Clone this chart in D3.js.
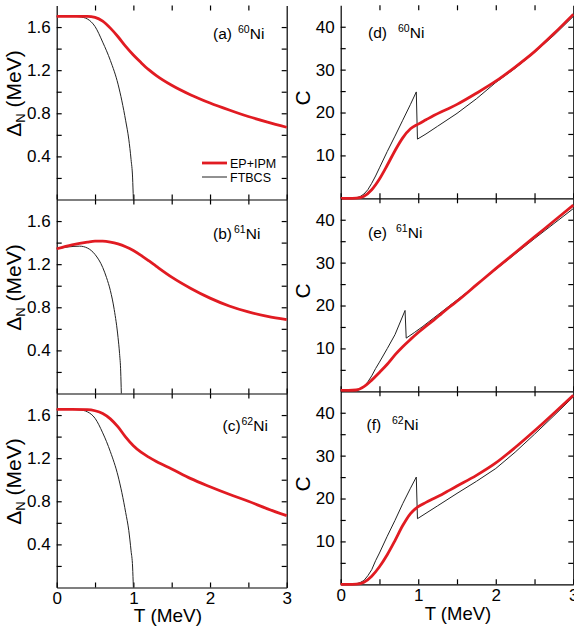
<!DOCTYPE html>
<html>
<head>
<meta charset="utf-8">
<script src="https://cdn.jsdelivr.net/npm/d3@7"></script>
<style>
  body { margin: 0; background: #fff; }
  text { font-family: "Liberation Sans", Arial, sans-serif; }
</style>
</head>
<body>
<div id="chart"></div>
<script>
// ---------- data ----------
// pairing gap, EP+IPM (red)
let t_gap_ep = [0, 0.2, 0.4, 0.5, 0.6, 0.7, 0.8, 0.9, 1.0, 1.1, 1.2, 1.3, 1.5, 1.75, 2.0, 2.25, 2.5, 2.75, 3.0];
let gap60_ep = [1.70, 1.70, 1.70, 1.69, 1.655, 1.59, 1.51, 1.42, 1.34, 1.27, 1.205, 1.15, 1.06, 0.97, 0.895, 0.83, 0.77, 0.718, 0.67];
let gap61_ep = [1.343, 1.38, 1.405, 1.413, 1.413, 1.405, 1.388, 1.362, 1.327, 1.282, 1.232, 1.18, 1.08, 0.975, 0.885, 0.812, 0.757, 0.716, 0.685];
let gap62_ep = [1.652, 1.652, 1.65, 1.64, 1.615, 1.565, 1.49, 1.395, 1.315, 1.255, 1.21, 1.17, 1.10, 1.01, 0.935, 0.865, 0.80, 0.73, 0.667];

// pairing gap, FTBCS (black)
let t_gap_bcs = [0, 0.2, 0.3, 0.4, 0.5, 0.6, 0.7, 0.8, 0.85, 0.9, 0.94, 0.97, 0.99, 1.0];
let gap60_bcs = [1.70, 1.70, 1.695, 1.675, 1.605, 1.46, 1.29, 1.07, 0.915, 0.73, 0.56, 0.37, 0.20, 0];
let gap62_bcs = [1.652, 1.652, 1.648, 1.63, 1.57, 1.435, 1.26, 1.035, 0.88, 0.695, 0.53, 0.34, 0.19, 0];
let t_gap61_bcs = [0, 0.15, 0.3, 0.4, 0.5, 0.6, 0.65, 0.7, 0.75, 0.8, 0.82, 0.835, 0.843];
let gap61_bcs = [1.343, 1.36, 1.367, 1.35, 1.29, 1.17, 1.075, 0.955, 0.78, 0.52, 0.37, 0.2, 0];

// heat capacity, EP+IPM (red)
let t_c_ep = [0, 0.1, 0.2, 0.3, 0.4, 0.5, 0.6, 0.7, 0.8, 0.9, 1.0, 1.1, 1.2, 1.3, 1.4, 1.5, 1.75, 2.0, 2.25, 2.5, 2.75, 3.0];
let c60_ep = [0, 0, 0.05, 0.5, 2.0, 4.5, 7.7, 11.1, 14.1, 16.2, 17.3, 18.3, 19.3, 20.2, 21.0, 21.9, 24.5, 27.3, 30.6, 34.2, 38.4, 42.9];
let c61_ep = [0.2, 0.2, 0.3, 1.1, 2.6, 4.4, 6.3, 8.5, 10.4, 12.1, 13.7, 15.2, 16.6, 18.1, 19.6, 21.0, 24.8, 28.6, 32.3, 36.0, 39.7, 43.4];
let c62_ep = [0, 0, 0.05, 0.5, 1.9, 4.1, 6.9, 10.2, 13.7, 16.5, 18.1, 19.1, 20.0, 20.9, 21.9, 22.9, 25.4, 28.3, 31.9, 35.8, 39.9, 44.1];

// heat capacity, FTBCS (black)
let t_c60_bcs = [0, 0.15, 0.2, 0.25, 0.3, 0.35, 0.4, 0.45, 0.5, 0.6, 0.7, 0.8, 0.9, 0.975, 0.99, 1.1, 1.25, 1.5, 1.75, 2.0, 2.25, 2.5, 2.75, 3.0];
let c60_bcs = [0, 0, 0.1, 0.4, 1.0, 2.0, 3.5, 5.2, 7.1, 10.9, 14.5, 18.2, 21.9, 24.8, 13.8, 15.0, 16.8, 19.8, 23.2, 27.0, 30.3, 34.0, 38.0, 42.4];
let t_c61_bcs = [0, 0.15, 0.2, 0.25, 0.3, 0.35, 0.4, 0.45, 0.5, 0.6, 0.7, 0.83, 0.845, 0.95, 1.05, 1.2, 1.5, 1.75, 2.0, 2.25, 2.5, 2.75, 3.0];
let c61_bcs = [0, 0, 0.15, 0.5, 1.1, 2.2, 3.6, 5.3, 6.8, 9.95, 13.2, 18.85, 12.4, 13.7, 15.0, 17.1, 21.3, 24.8, 28.4, 32.0, 35.6, 39.1, 42.6];
let t_c62_bcs = [0, 0.15, 0.2, 0.25, 0.3, 0.35, 0.4, 0.45, 0.5, 0.6, 0.7, 0.8, 0.9, 0.975, 0.99, 1.25, 1.5, 1.75, 2.0, 2.25, 2.5, 2.75, 3.0];
let c62_bcs = [0, 0, 0.1, 0.4, 0.9, 2.0, 3.4, 5.5, 7.3, 11.2, 14.9, 18.8, 22.4, 25.0, 15.3, 18.3, 21.2, 24.0, 27.0, 30.8, 35.0, 39.3, 43.7];

// ticks / labels
let t_ticks = [0, 0.5, 1, 1.5, 2, 2.5, 3];
let gap_major = [0.4, 0.8, 1.2, 1.6];
let gap_minor = [0.2, 0.6, 1.0, 1.4];
let c_major = [10, 20, 30, 40];
let c_minor = [5, 15, 25, 35];
let tags_left = ['(a)', '(b)', '(c)'];
let tags_right = ['(d)', '(e)', '(f)'];
let masses = ['60', '61', '62'];

// ---------- layout ----------
let chart_width = 574;
let chart_height = 632;
let red = '#e11b22';

let svg = d3.select('#chart')
    .append('svg')
    .attr('width', chart_width)
    .attr('height', chart_height);

let xl = d3.scaleLinear().domain([0, 3]).range([56.7, 286.7]);
let xr = d3.scaleLinear().domain([0, 3]).range([340.7, 573.3]);

let left_top = 5.5, left_h = 194;
let right_top = 5.3, right_h = 193;

// lab: [tag x, superscript x, baseline offset from panel top]
let left_panels = [
    { ep: [t_gap_ep, gap60_ep], bcs: [t_gap_bcs, gap60_bcs], lab: [213, 238, 33.5] },
    { ep: [t_gap_ep, gap61_ep], bcs: [t_gap61_bcs, gap61_bcs], lab: [213, 234, 39] },
    { ep: [t_gap_ep, gap62_ep], bcs: [t_gap_bcs, gap62_bcs], lab: [222.5, 241.5, 37] }
];
let right_panels = [
    { ep: [t_c_ep, c60_ep], bcs: [t_c60_bcs, c60_bcs], lab: [368, 398, 33] },
    { ep: [t_c_ep, c61_ep], bcs: [t_c61_bcs, c61_bcs], lab: [368, 396, 39.5] },
    { ep: [t_c_ep, c62_ep], bcs: [t_c62_bcs, c62_bcs], lab: [366.5, 392, 38.5] }
];

function zip(pair) {
    return pair[0].map(function(t, i) { return [t, pair[1][i]]; });
}

function styleAxis(g) {
    g.attr('font-size', 17).attr('font-family', '"Liberation Sans", Arial, sans-serif');
    g.selectAll('path, line').attr('stroke', '#000').attr('stroke-width', 1.2);
}

function drawPanel(p, i, x, top, h, ymax, major, minor, fmt, is_left) {
    let bottom = top + h;
    let y = d3.scaleLinear().domain([0, ymax]).range([bottom, top]);
    let g = svg.append('g');
    let last = (i === 2);

    // bottom
    g.append('g')
        .attr('transform', 'translate(0,' + bottom + ')')
        .call(d3.axisBottom(x).tickValues(t_ticks).tickSize(-5).tickSizeOuter(0).tickPadding(is_left ? 4 : 5)
            .tickFormat(function(d) { return (last && d % 1 === 0) ? d : ''; }))
        .call(styleAxis);
    // top
    let ta = g.append('g')
        .attr('transform', 'translate(0,' + top + ')')
        .call(d3.axisTop(x).tickValues(t_ticks.slice(1, -1)).tickSize(-5).tickSizeOuter(0).tickFormat(''))
        .call(styleAxis);
    ta.select('.domain').remove();
    // left
    g.append('g')
        .attr('transform', 'translate(' + x.range()[0] + ',0)')
        .call(d3.axisLeft(y).tickValues(major.concat(minor)).tickSize(-5).tickSizeOuter(0).tickPadding(6)
            .tickFormat(function(d) { return major.indexOf(d) >= 0 ? fmt(d) : ''; }))
        .call(styleAxis);
    // right
    g.append('g')
        .attr('transform', 'translate(' + x.range()[1] + ',0)')
        .call(d3.axisRight(y).tickValues(major.concat(minor)).tickSize(-5).tickSizeOuter(0).tickFormat(''))
        .call(styleAxis);

    let line_ep = d3.line()
        .x(function(d) { return x(d[0]); })
        .y(function(d) { return y(d[1]); })
        .curve(d3.curveMonotoneX);
    let line_bcs = d3.line()
        .x(function(d) { return x(d[0]); })
        .y(function(d) { return y(d[1]); })
        .curve(is_left ? d3.curveMonotoneX : d3.curveLinear);

    g.append('path')
        .attr('d', line_bcs(zip(p.bcs)))
        .attr('fill', 'none')
        .attr('stroke', '#222')
        .attr('stroke-width', 1);
    g.append('path')
        .attr('d', line_ep(zip(p.ep)))
        .attr('fill', 'none')
        .attr('stroke', red)
        .attr('stroke-width', 2.8);

    // panel tag
    let tag = g.append('text')
        .attr('x', p.lab[0])
        .attr('y', top + p.lab[2])
        .attr('font-size', 15.5);
    tag.append('tspan').text(is_left ? tags_left[i] : tags_right[i]);
    tag.append('tspan').attr('x', p.lab[1]).attr('dy', -6).attr('font-size', 10.5).text(masses[i]);
    tag.append('tspan').attr('dy', 6).text('Ni');

    // y title
    let cy = top + h / 2;
    if (is_left) {
        let yt = g.append('text')
            .attr('transform', 'translate(21,' + (cy - 9) + ') rotate(-90)')
            .attr('text-anchor', 'middle')
            .attr('font-size', 21);
        yt.append('tspan').text('\u0394');
        yt.append('tspan').attr('font-size', 13).attr('dy', 4).text('N');
        yt.append('tspan').attr('dy', -4).text(' (MeV)');
    } else {
        g.append('text')
            .attr('transform', 'translate(310,' + (cy - 4) + ') rotate(-90)')
            .attr('text-anchor', 'middle')
            .attr('font-size', 21)
            .text('C');
    }

    if (last) {
        g.append('text')
            .attr('x', is_left ? 168 : 458)
            .attr('y', is_left ? 622 : 620)
            .attr('text-anchor', 'middle')
            .attr('font-size', is_left ? 19 : 18.5)
            .text('T (MeV)');
    }
}

left_panels.forEach(function(p, i) {
    drawPanel(p, i, xl, left_top + i * left_h, left_h, 1.8, gap_major, gap_minor, d3.format('.1f'), true);
});
right_panels.forEach(function(p, i) {
    drawPanel(p, i, xr, right_top + i * right_h, right_h, 45, c_major, c_minor, d3.format('d'), false);
});

// legend in panel (a)
let legend = svg.append('g');
legend.append('line').attr('x1', 202).attr('x2', 227).attr('y1', 163).attr('y2', 163)
    .attr('stroke', red).attr('stroke-width', 2.8);
legend.append('text').attr('x', 230).attr('y', 167.5).attr('font-size', 12.5).text('EP+IPM');
legend.append('line').attr('x1', 202).attr('x2', 227).attr('y1', 177).attr('y2', 177)
    .attr('stroke', '#222').attr('stroke-width', 1);
legend.append('text').attr('x', 230).attr('y', 181.5).attr('font-size', 12.5).text('FTBCS');
</script>
</body>
</html>
